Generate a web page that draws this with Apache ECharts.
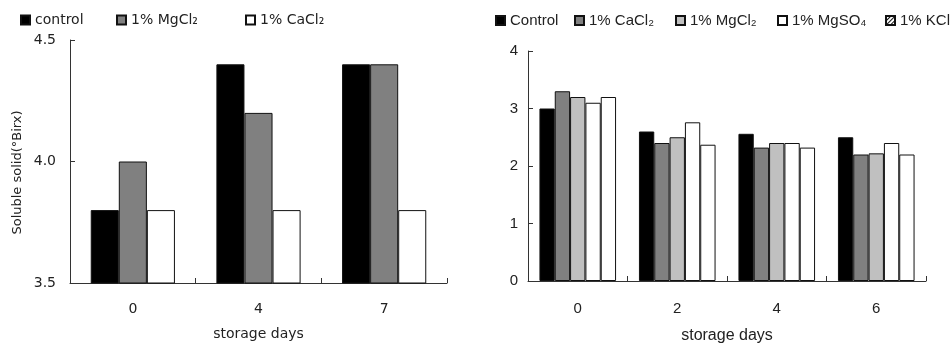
<!DOCTYPE html>
<html>
<head>
<meta charset="utf-8">
<script src="https://cdn.jsdelivr.net/npm/echarts@6/dist/echarts.min.js"></script>
<style>
  html, body { margin: 0; padding: 0; background: #fff; }
  #chart { width: 952px; height: 349px; }
</style>
</head>
<body>
<div id="chart"></div>
<script>
// left panel
const leftDays = ['0', '4', '7']
const leftNames = ['control', '1% MgCl₂', '1% CaCl₂']
const leftControl = [3.8, 4.4, 4.4]
const leftMgCl2 = [4.0, 4.2, 4.4]
const leftCaCl2 = [3.8, 3.8, 3.8]

// right panel
const rightDays = ['0', '2', '4', '6']
const rightNames = ['Control', '1% CaCl₂ ', '1% MgCl₂ ', '1% MgSO₄', '1% KCl']
const rightControl = [3.0, 2.6, 2.56, 2.5]
const rightCaCl2 = [3.3, 2.4, 2.32, 2.2]
const rightMgCl2 = [3.2, 2.5, 2.4, 2.22]
const rightMgSO4 = [3.1, 2.76, 2.4, 2.4]
const rightKCl = [3.2, 2.37, 2.32, 2.2]

const wide = 'DejaVu Sans, sans-serif'
const narrow = 'Liberation Sans, Arial, sans-serif'
const txt = '#222'
const axisLine = { show: true, lineStyle: { color: '#333', width: 1 } }
const axisTick = { show: true, inside: true, length: 5, lineStyle: { color: '#333' } }

function bar(name, data, color, idx) {
  return {
    name: name,
    type: 'bar',
    xAxisIndex: idx,
    yAxisIndex: idx,
    data: data,
    barGap: '0%',
    barCategoryGap: idx === 0 ? '33%' : '23%',
    itemStyle: { color: color, borderColor: '#111', borderWidth: 1 },
    emphasis: { disabled: true }
  }
}

// one legend per entry so each sits where the original put it
function legendItem(item, x, family, size) {
  return {
    left: x, top: 13, padding: 0,
    icon: 'rect', itemWidth: 9, itemHeight: 9,
    textStyle: { fontSize: size, fontFamily: family, color: txt },
    data: [item]
  }
}

const kclItem = {
  name: '1% KCl',
  itemStyle: {
    color: '#fff',
    decal: { symbol: 'rect', color: '#111', dashArrayX: [1, 0], dashArrayY: [1, 2], rotation: -Math.PI / 4 }
  }
}

const chart = echarts.init(document.getElementById('chart'))
const option = {
  animation: false,
  textStyle: { fontFamily: narrow, color: txt },
  legend: [
    legendItem(leftNames[0], 20, wide, 14),
    legendItem(leftNames[1], 116, wide, 14),
    legendItem(leftNames[2], 245, wide, 14),
    legendItem(rightNames[0], 495, narrow, 15),
    legendItem(rightNames[1], 574, narrow, 15),
    legendItem(rightNames[2], 675, narrow, 15),
    legendItem(rightNames[3], 777, narrow, 15),
    legendItem(kclItem, 885, narrow, 15)
  ],
  grid: [
    { left: 70, top: 40, width: 377, height: 243 },
    { left: 528, top: 51, width: 398, height: 231 }
  ],
  xAxis: [
    {
      type: 'category', gridIndex: 0, data: leftDays,
      axisLine: axisLine, axisTick: axisTick,
      axisLabel: { fontSize: 14, fontFamily: wide, color: txt, margin: 19 },
      name: 'storage days', nameLocation: 'middle', nameGap: 44,
      nameTextStyle: { fontSize: 14, fontFamily: wide, color: txt }
    },
    {
      type: 'category', gridIndex: 1, data: rightDays,
      axisLine: axisLine, axisTick: axisTick,
      axisLabel: { fontSize: 15, color: txt, margin: 20 },
      name: 'storage days', nameLocation: 'middle', nameGap: 47,
      nameTextStyle: { fontSize: 16, color: txt }
    }
  ],
  yAxis: [
    {
      type: 'value', gridIndex: 0, min: 3.5, max: 4.5, interval: 0.5,
      axisLine: axisLine, axisTick: axisTick, splitLine: { show: false },
      axisLabel: { fontSize: 14, fontFamily: wide, color: txt, margin: 14, formatter: v => v.toFixed(1) },
      name: 'Soluble solid(°Birx)', nameLocation: 'middle', nameGap: 46,
      nameTextStyle: { fontSize: 13, fontFamily: wide, color: txt, padding: [0, 22, 0, 0] }
    },
    {
      type: 'value', gridIndex: 1, min: 0, max: 4, interval: 1,
      axisLine: axisLine, axisTick: axisTick, splitLine: { show: false },
      axisLabel: { fontSize: 15, color: txt, margin: 10 }
    }
  ],
  series: [
    bar(leftNames[0], leftControl, '#000', 0),
    bar(leftNames[1], leftMgCl2, '#808080', 0),
    bar(leftNames[2], leftCaCl2, '#fff', 0),
    bar(rightNames[0], rightControl, '#000', 1),
    bar(rightNames[1], rightCaCl2, '#808080', 1),
    bar(rightNames[2], rightMgCl2, '#c0c0c0', 1),
    bar(rightNames[3], rightMgSO4, '#fff', 1),
    bar(rightNames[4], rightKCl, '#fff', 1)
  ]
}
chart.setOption(option)
</script>
</body>
</html>
